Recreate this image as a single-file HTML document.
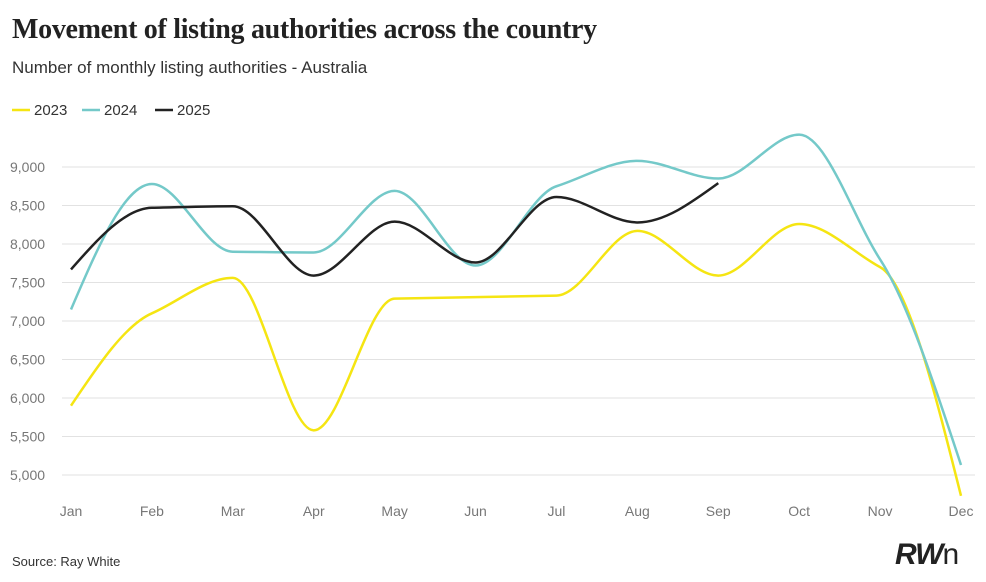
<!DOCTYPE html>
<html><head><meta charset="utf-8">
<style>
body{margin:0;background:#fff;width:986px;height:582px;overflow:hidden;font-family:"Liberation Sans",sans-serif;}
#title{position:absolute;left:12px;top:14px;font-family:"Liberation Serif",serif;font-weight:bold;font-size:28px;color:#222;letter-spacing:-0.3px}
#sub{position:absolute;left:12px;top:58px;font-size:17px;color:#333}
#src{position:absolute;left:12px;top:554px;font-size:13px;color:#333}
#logo{position:absolute;left:895px;top:538px;font-size:30px;font-weight:bold;font-style:italic;color:#222;letter-spacing:-1px}
svg{position:absolute;left:0;top:0}
</style></head><body>
<div id="title">Movement of listing authorities across the country</div>
<div id="sub">Number of monthly listing authorities - Australia</div>
<div id="src">Source: Ray White</div>
<div id="logo">RW<span style="font-weight:normal;font-style:normal">n</span></div>
<svg id="chart" width="986" height="582"></svg>
<script>
const months=["Jan","Feb","Mar","Apr","May","Jun","Jul","Aug","Sep","Oct","Nov","Dec"];
const yTicks=[5000,5500,6000,6500,7000,7500,8000,8500,9000];
const seriesNames=["2023","2024","2025"];
const colors=["#f5e512","#74c9c9","#222222"];
const v2023=[5900,7100,7560,5580,7290,7310,7330,8170,7590,8260,7700,4730];
const v2024=[7150,8780,7900,7890,8690,7720,8750,9080,8850,9420,7800,5130];
const v2025=[7670,8470,8490,7590,8290,7760,8610,8280,8790];
const allSeries=[v2023,v2024,v2025];
const NS="http://www.w3.org/2000/svg";
const svg=document.getElementById('chart');
const x=i=>71+i*(961-71)/11;
const y=v=>475-(v-5000)*(475-167)/4000;
function mk(t,a){const e=document.createElementNS(NS,t);for(const k in a)e.setAttribute(k,a[k]);svg.appendChild(e);return e;}
yTicks.forEach(t=>{
  const l=mk('line',{x1:62,x2:975,y1:y(t),y2:y(t),stroke:'#e2e2e2','stroke-width':1});
  
  
  const tx=mk('text',{x:10,y:y(t)+5,'font-size':14,fill:'#777'});
  tx.textContent=t.toLocaleString('en-US');
  
  
});
months.forEach((m,i)=>{
  const tx=mk('text',{x:x(i),y:516,'font-size':14,fill:'#777','text-anchor':'middle'});
  tx.textContent=m;
  
  
});
function path(vals){
  const p=vals.map((v,i)=>[x(i),y(v)]);
  const n=p.length,h=p[1][0]-p[0][0];
  const s=[];for(let i=0;i<n-1;i++)s.push((p[i+1][1]-p[i][1])/h);
  const m=[];
  for(let i=0;i<n;i++){
    if(i===0)m.push(s[0]);else if(i===n-1)m.push(s[n-2]);
    else{const a=s[i-1],b=s[i];
      if(a*b<=0)m.push(0);else{const t=(Math.sign(a)+Math.sign(b))*Math.min(Math.abs(a),Math.abs(b),0.5*Math.abs(a+b)/2*2/2+Math.abs((a+b)/2)*0.5);m.push(Math.sign(a)*Math.min(Math.abs(a),Math.abs(b),Math.abs((a+b)/2))*1.0);}}
  }
  m[0]=(3*s[0]-m[1])/2; m[n-1]=(3*s[n-2]-m[n-2])/2;
  let d='M'+p[0][0]+','+p[0][1];
  for(let i=0;i<n-1;i++){
    const dx=h/3;
    d+=` C${p[i][0]+dx},${p[i][1]+m[i]*dx} ${p[i+1][0]-dx},${p[i+1][1]-m[i+1]*dx} ${p[i+1][0]},${p[i+1][1]}`;
  }
  return d;
}
allSeries.forEach((s,k)=>{
  const e=mk('path',{d:path(s),fill:'none',stroke:colors[k],'stroke-width':2.5});
  
  
});
const lx=[12,82,155];
seriesNames.forEach((n,k)=>{
  const g=mk('line',{x1:lx[k],x2:lx[k]+18,y1:110,y2:110,stroke:colors[k],'stroke-width':2.5});
  
  
  const t=mk('text',{x:lx[k]+22,y:115,'font-size':15,fill:'#333'});
  t.textContent=n;
  
  
});
</script>
</body></html>
